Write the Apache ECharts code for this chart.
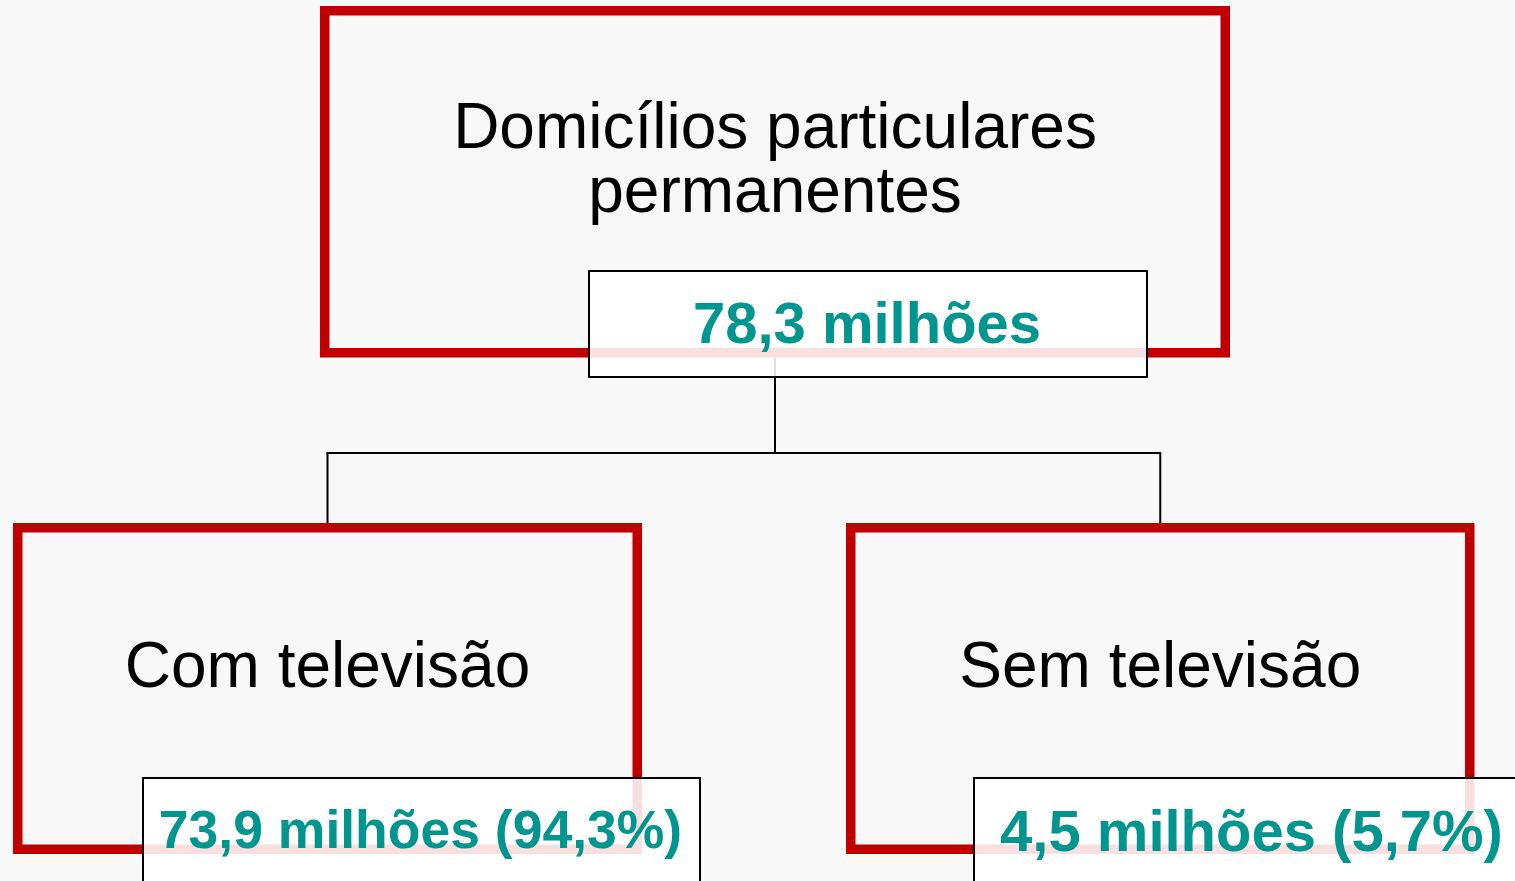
<!DOCTYPE html>
<html>
<head>
<meta charset="utf-8">
<script src="https://cdn.jsdelivr.net/npm/echarts@6/dist/echarts.min.js"></script>
<style>
  html, body { margin: 0; padding: 0; background: #f8f8f8; }
  #chart { width: 1515px; height: 881px; }
</style>
</head>
<body>
<div id="chart"></div>
<script>
// ---- data ----
const nodeNames = ['Domicílios particulares\npermanentes', 'Com televisão', 'Sem televisão'];
const householdsMillions = [78.3, 73.9, 4.5];
const sharePercent = [null, 94.3, 5.7];
const parentIndex = [null, 0, 0];

// ---- layout (positions / sizes / styles) ----
const RED = '#c00000';
const TEAL = '#00958f';
const FONT = '"Liberation Sans", Arial, sans-serif';
const RED_LW = 9.5;
const boxes = [
  { x0: 320, y0: 6,   x1: 1230,   y1: 357.5, labelY: 162.5, valBox: [588, 270, 1148, 378], valY: 327, valFs: 58 },
  { x0: 13,  y0: 523, x1: 642,    y1: 854,   labelY: 669.5, valBox: [142, 777, 701, 898], valY: 833.5, valFs: 53.5 },
  { x0: 846, y0: 523, x1: 1474.5, y1: 854,   labelY: 669.5, valBox: [973, 777, 1532, 898], valY: 835, valFs: 58 }
];
const connectorY = 453;

function fmt(v) { return v.toFixed(1).replace('.', ','); }
function valueText(i) {
  let s = fmt(householdsMillions[i]) + ' milhões';
  if (sharePercent[i] != null) s += ' (' + fmt(sharePercent[i]) + '%)';
  return s;
}

const chart = echarts.init(document.getElementById('chart'), null, { renderer: 'canvas', width: 1515, height: 881 });

const elements = [];
// red frames
boxes.forEach((b, i) => {
  const h = RED_LW / 2;
  elements.push({
    type: 'rect', z: 1,
    shape: { x: b.x0 + h, y: b.y0 + h, width: b.x1 - b.x0 - RED_LW, height: b.y1 - b.y0 - RED_LW },
    style: { fill: null, stroke: RED, lineWidth: RED_LW }
  });
});
// connectors
const cx = b => (b.x0 + b.x1) / 2;
const kids = [];
parentIndex.forEach((p, i) => { if (p != null) kids.push(i); });
const root = boxes[0];
const lineStyle = { stroke: '#000', lineWidth: 2 };
elements.push({
  type: 'line', z: 2,
  shape: { x1: cx(root), y1: root.y1, x2: cx(root), y2: connectorY },
  style: lineStyle
});
elements.push({
  type: 'line', z: 2,
  shape: { x1: Math.min(...kids.map(k => cx(boxes[k]))) - 1, y1: connectorY, x2: Math.max(...kids.map(k => cx(boxes[k]))) + 1, y2: connectorY },
  style: lineStyle
});
kids.forEach(k => {
  elements.push({
    type: 'line', z: 2,
    shape: { x1: cx(boxes[k]), y1: connectorY, x2: cx(boxes[k]), y2: boxes[k].y0 },
    style: lineStyle
  });
});
// labels
boxes.forEach((b, i) => {
  elements.push({
    type: 'text', z: 3, x: cx(b), y: b.labelY,
    style: {
      text: nodeNames[i], fill: '#000', fontSize: 64, fontFamily: FONT, fontWeight: 'normal',
      align: 'center', verticalAlign: 'middle', lineHeight: 64
    }
  });
});
// value boxes
boxes.forEach((b, i) => {
  const v = b.valBox;
  elements.push({
    type: 'rect', z: 4,
    shape: { x: v[0] + 1, y: v[1] + 1, width: v[2] - v[0] - 2, height: v[3] - v[1] - 2 },
    style: { fill: 'rgba(255,255,255,0.88)', stroke: '#000', lineWidth: 2 }
  });
  elements.push({
    type: 'text', z: 5, x: (v[0] + v[2]) / 2 - 1, y: b.valY,
    style: {
      text: valueText(i), fill: TEAL, fontSize: b.valFs, fontFamily: FONT, fontWeight: 'bold',
      align: 'center', verticalAlign: 'middle'
    }
  });
});

chart.setOption({
  backgroundColor: '#f8f8f8',
  animation: false,
  graphic: { elements: elements }
});
</script>
</body>
</html>
